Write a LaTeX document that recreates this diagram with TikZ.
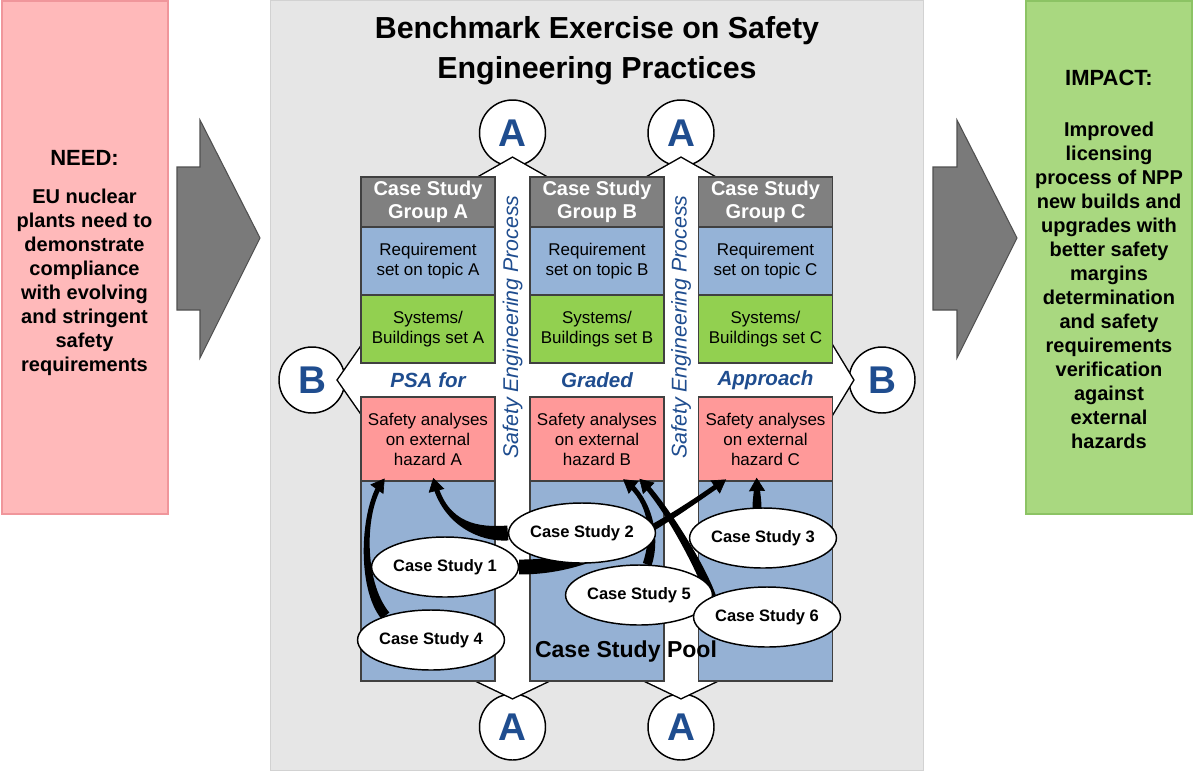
\documentclass[tikz,border=0pt]{standalone}
\usepackage{fontspec}
\setmainfont{Liberation Sans}
\usetikzlibrary{shapes.geometric,arrows.meta,calc}
\definecolor{needpink}{RGB}{255,185,186}
\definecolor{neededge}{RGB}{240,150,155}
\definecolor{impgreen}{RGB}{169,216,128}
\definecolor{impedge}{RGB}{140,195,100}
\definecolor{panelgray}{RGB}{230,230,230}
\definecolor{paneledge}{RGB}{210,210,210}
\definecolor{arrowgray}{RGB}{122,122,122}
\definecolor{arrowedge}{RGB}{80,80,80}
\definecolor{hdrgray}{RGB}{128,128,128}
\definecolor{reqblue}{RGB}{149,179,215}
\definecolor{sysgreen}{RGB}{146,208,80}
\definecolor{hazred}{RGB}{255,153,153}
\definecolor{poolblue}{RGB}{149,177,212}
\definecolor{boxedge}{RGB}{64,64,64}
\definecolor{letterblue}{RGB}{31,77,143}
\pgfdeclarelayer{bg}
\pgfdeclarelayer{conn}
\pgfsetlayers{bg,conn,main}
% tapered connector: #1 start, #2 control 1, #3 control 2, #4 end, #5 start half width, #6 end half width
\newcommand\taperarrow[6]{%
  \fill ($(#1)!#5!90:(#2)$) .. controls ($(#2)!#5!-90:(#1)$) and ($(#3)!#6!90:(#4)$) .. ($(#4)!#6!-90:(#3)$)
     -- ($(#4)!#6!90:(#3)$) .. controls ($(#3)!#6!-90:(#4)$) and ($(#2)!#5!90:(#1)$) .. ($(#1)!#5!-90:(#2)$) -- cycle;
  \draw[csarrow] ($(#4)!8pt!(#3)$) -- ($(#4)!-3pt!(#3)$);%
}
\begin{document}
\begin{tikzpicture}[x=0.75pt,y=-0.75pt,
  colbox/.style={draw=boxedge, line width=1.1pt, minimum width=100.5pt, inner sep=0pt, align=center},
  hdr/.style={colbox, fill=hdrgray, minimum height=37.5pt, text=white, font=\fontsize{15}{17.25}\selectfont\bfseries},
  req/.style={colbox, fill=reqblue, minimum height=51pt, font=\fontsize{12.75}{15}\selectfont},
  sys/.style={colbox, fill=sysgreen, minimum height=51pt, font=\fontsize{12.75}{15}\selectfont},
  haz/.style={colbox, fill=hazred, minimum height=63pt, font=\fontsize{12.75}{15}\selectfont},
  pool/.style={colbox, fill=poolblue, minimum height=150pt},
  cs/.style={ellipse, draw=black, line width=1.1pt, fill=white, minimum width=91.5pt, minimum height=45pt, inner sep=0pt, font=\fontsize{12.4}{14}\selectfont\bfseries},
  marker/.style={circle, draw=black, line width=1.1pt, fill=white, minimum size=49.5pt, inner sep=0pt, text=letterblue, font=\fontsize{29}{30}\selectfont\bfseries},
  csarrow/.style={line width=0.5pt, -{Triangle[length=10pt,width=12pt]}},
  bandlabel/.style={text=letterblue, font=\fontsize{15.4}{17}\selectfont\bfseries\itshape},
  vlabel/.style={text=letterblue, rotate=90, font=\fontsize{16}{18}\selectfont\itshape},
  bigarrowshape/.style={fill=arrowgray, draw=arrowedge, line width=0.8pt},
  sidebox/.style={minimum width=124.5pt, minimum height=384.75pt, inner sep=0pt, line width=0.8pt},
  sidehead/.style={font=\fontsize{16.5}{19}\selectfont\bfseries},
  sidebody/.style={align=center, font=\fontsize{15}{18}\selectfont\bfseries}
]
\useasboundingbox (0,0) rectangle (1200,772);
\begin{pgfonlayer}{bg}
% side boxes
\node[sidebox, fill=needpink, draw=neededge] (need) at (85,257.5) {};
\node[sidebox, fill=impgreen, draw=impedge] (impact) at (1109,257.5) {};
\node[sidehead] (needhead) at (84.5,158) {NEED:};
\node[sidebody] (needbody) at (84.5,282) {EU nuclear\\plants need to\\demonstrate\\compliance\\with evolving\\and stringent\\safety\\requirements};
\node[sidehead] (imphead) at (1109,78) {IMPACT:};
\node[sidebody] (impbody) at (1109,285) {Improved\\licensing\\process of NPP\\new builds and\\upgrades with\\better safety\\margins\\determination\\and safety\\requirements\\verification\\against\\external\\hazards};
% big arrows
\draw[bigarrowshape] (177,167) -- (200,167) -- (200,120) -- (260,238) -- (200,358) -- (200,310) -- (177,310) -- cycle;
\draw[bigarrowshape] (933,167) -- (957,167) -- (957,120) -- (1017,238) -- (957,358) -- (957,310) -- (933,310) -- cycle;
% central panel
\node[fill=panelgray, draw=paneledge, line width=0.6pt, minimum width=489.75pt, minimum height=577.5pt, inner sep=0pt] (panel) at (596.5,385) {};
\node[align=center, font=\fontsize{22.8}{30}\selectfont\bfseries] (title) at (597,51) {Benchmark Exercise on Safety\\Engineering Practices};
% markers
\node[marker] (a1) at (512.5,133) {A};
\node[marker] (a2) at (681,133) {A};
\node[marker] (a3) at (512.5,727) {A};
\node[marker] (a4) at (681,727) {A};
\node[marker] (b1) at (312,380) {B};
\node[marker] (b2) at (882,380) {B};
% white double arrows: outlines then fills
\def\vA{(512.5,158) -- (546,177) -- (530,177) -- (530,682) -- (546,682) -- (512.5,698) -- (479,682) -- (495,682) -- (495,177) -- (479,177) -- cycle}
\def\vB{(681,158) -- (714.5,177) -- (698,177) -- (698,682) -- (714.5,682) -- (681,698) -- (647.5,682) -- (664,682) -- (664,177) -- (647.5,177) -- cycle}
\def\hAB{(338,380) -- (361,347) -- (361,363) -- (833,363) -- (833,347) -- (853,380) -- (833,413) -- (833,397) -- (361,397) -- (361,413) -- cycle}
\draw[line width=2.2pt] \vA;
\draw[line width=2.2pt] \vB;
\draw[line width=2.2pt] \hAB;
\fill[white] \vA;
\fill[white] \vB;
\fill[white] \hAB;
% columns
\foreach \c/\x in {A/428,B/597,C/765.5}{
  \node[hdr] (hd\c) at (\x,202) {Case Study\\Group \c};
  \node[req] (rq\c) at (\x,261) {Requirement\\set on topic \c};
  \node[sys] (sy\c) at (\x,329) {Systems/\\Buildings set \c};
  \node[pool] (pl\c) at (\x,581) {};
  \node[haz] (h\c) at (\x,439) {Safety analyses\\on external\\hazard \c};
}
\node[bandlabel] (psa) at (428,380) {PSA for};
\node[bandlabel] (graded) at (597,380) {Graded};
\node[bandlabel] (approach) at (765.5,380) {Approach};
\node[vlabel] (sep1) at (512.5,327) {Safety Engineering Process};
\node[vlabel] (sep2) at (681,327) {Safety Engineering Process};
\end{pgfonlayer}
% case studies
\node[cs] (cs2) at (582,533) {Case Study 2};
\node[cs] (cs1) at (445,567) {Case Study 1};
\node[cs] (cs3) at (763,538) {Case Study 3};
\node[cs] (cs5) at (639,595) {Case Study 5};
\node[cs] (cs6) at (767,617) {Case Study 6};
\node[cs] (cs4) at (431,640) {Case Study 4};
\node[font=\fontsize{17.3}{20}\selectfont\bfseries] (pooltxt) at (626,652) {Case Study Pool};
\begin{pgfonlayer}{conn}
% end points on the hazard boxes and start points on the case studies
\coordinate (s4) at (cs4.152);
\coordinate (e4) at ($(hA.south west)+(22,0)$);
\coordinate (s2) at (cs2.west);
\coordinate (e2) at ($(hA.south west)+(74,0)$);
\coordinate (s1) at (cs1.east);
\coordinate (e1) at ($(hC.south west)+(25,0)$);
\coordinate (s5) at (cs5.75);
\coordinate (e5) at ($(hB.south west)+(97,0)$);
\coordinate (s6) at (cs6.160);
\coordinate (e6) at ($(hB.south west)+(113,0)$);
\coordinate (s3) at ($(cs3.north)+(-6,2)$);
\coordinate (e3) at ($(hC.south west)+(59,0)$);
% control points
\coordinate (k4a) at (360,585); \coordinate (k4b) at (362,510);
\coordinate (k2a) at (480,535); \coordinate (k2b) at (445,525);
\coordinate (k1a) at (590,567); \coordinate (k1b) at (640,540);
\coordinate (k5a) at (657,535); \coordinate (k5b) at (650,500);
\coordinate (k6a) at (700,565); \coordinate (k6b) at (665,505);
\coordinate (k3a) at (757,498); \coordinate (k3b) at (757,490);
\taperarrow{s4}{k4a}{k4b}{e4}{3.8pt}{1.9pt}
\taperarrow{s2}{k2a}{k2b}{e2}{5.6pt}{1.9pt}
\taperarrow{s1}{k1a}{k1b}{e1}{5.6pt}{1.8pt}
\taperarrow{s5}{k5a}{k5b}{e5}{3.4pt}{1.9pt}
\taperarrow{s6}{k6a}{k6b}{e6}{3.6pt}{1.9pt}
\taperarrow{s3}{k3a}{k3b}{e3}{3.4pt}{1.9pt}
\end{pgfonlayer}
\end{tikzpicture}
\end{document}
